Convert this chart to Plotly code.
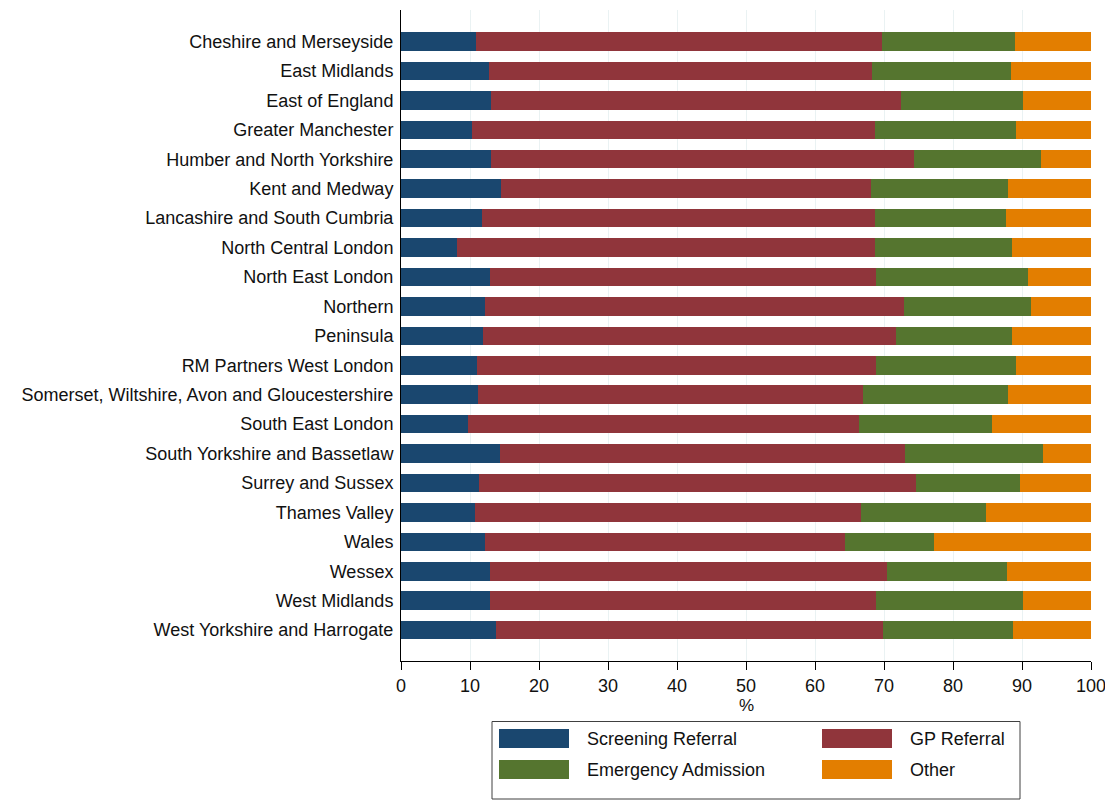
import plotly.graph_objects as go

regions = [
    "Cheshire and Merseyside", "East Midlands", "East of England", "Greater Manchester",
    "Humber and North Yorkshire", "Kent and Medway", "Lancashire and South Cumbria",
    "North Central London", "North East London", "Northern", "Peninsula",
    "RM Partners West London", "Somerset, Wiltshire, Avon and Gloucestershire",
    "South East London", "South Yorkshire and Bassetlaw", "Surrey and Sussex",
    "Thames Valley", "Wales", "Wessex", "West Midlands", "West Yorkshire and Harrogate",
]

screening = [10.8, 12.7, 13.1, 10.3, 13.1, 14.5, 11.7, 8.1, 12.9, 12.2, 11.9,
             11.0, 11.2, 9.7, 14.3, 11.3, 10.7, 12.2, 12.9, 12.9, 13.8]
gp = [58.9, 55.5, 59.3, 58.4, 61.2, 53.6, 57.0, 60.6, 55.9, 60.7, 59.8,
      57.8, 55.7, 56.7, 58.7, 63.4, 55.9, 52.1, 57.5, 55.9, 56.1]
emergency = [19.3, 20.2, 17.7, 20.4, 18.5, 19.9, 19.0, 19.8, 22.1, 18.4, 16.8,
             20.3, 21.1, 19.2, 20.0, 15.0, 18.2, 12.9, 17.4, 21.4, 18.8]
other = [11.0, 11.6, 9.9, 10.9, 7.2, 12.0, 12.3, 11.5, 9.1, 8.7, 11.5,
         10.9, 12.0, 14.4, 7.0, 10.3, 15.2, 22.8, 12.2, 9.8, 11.3]

series_names = ["Screening Referral", "GP Referral", "Emergency Admission", "Other"]
series_values = [screening, gp, emergency, other]
series_colors = ["#1a476f", "#90353b", "#55752f", "#e37e00"]

x_ticks = [0, 10, 20, 30, 40, 50, 60, 70, 80, 90, 100]
x_title = "%"

FONT = "Liberation Sans, Arial, sans-serif"
TXT = "#111111"

fig = go.Figure()
for name, vals, col in zip(series_names, series_values, series_colors):
    fig.add_trace(go.Bar(
        y=regions, x=vals, name=name, orientation="h",
        marker=dict(color=col, line=dict(width=0)),
        width=0.63, showlegend=False,
    ))

# page offset from the default body margin
OFF = 8
W, H = 1113 - OFF, 801 - OFF
# plot area in page pixels
L, R, T, B = 401, 1091, 10, 661

def px(x):
    return (x - L) / (R - L)

def py(y):
    return (B - y) / (B - T)

shapes = []
annotations = []
# x axis title
annotations.append(dict(xref="paper", yref="paper", x=0.5, y=py(705),
                        text=x_title, showarrow=False, xanchor="center", yanchor="middle",
                        font=dict(family=FONT, size=17, color=TXT)))
# legend box (page pixel coordinates)
shapes.append(dict(type="rect", xref="paper", yref="paper",
                   x0=px(492), x1=px(1020), y0=py(799), y1=py(721.5),
                   line=dict(color="#404040", width=1), fillcolor="white", layer="above"))
legend_pos = [(499, 729), (822, 729), (499, 760), (822, 760)]
for name, col, (lx, ly) in zip(series_names, series_colors, legend_pos):
    shapes.append(dict(type="rect", xref="paper", yref="paper",
                       x0=px(lx), x1=px(lx + 70), y0=py(ly + 19), y1=py(ly),
                       line=dict(width=0), fillcolor=col, layer="above"))
    annotations.append(dict(xref="paper", yref="paper", x=px(lx + 86), y=py(ly + 9.5),
                            text=name, showarrow=False, xanchor="left", yanchor="middle",
                            font=dict(family=FONT, size=18, color=TXT)))

fig.update_layout(
    barmode="stack",
    width=W, height=H,
    margin=dict(l=L - OFF, r=W - (R - OFF), t=T - OFF, b=H - (B - OFF), pad=0),
    paper_bgcolor="white", plot_bgcolor="white",
    font=dict(family=FONT, size=18, color=TXT),
    shapes=shapes, annotations=annotations,
)
fig.update_xaxes(
    range=[0, 100], tickvals=x_ticks, ticktext=[str(t) for t in x_ticks],
    showgrid=True, gridcolor="#eaf2f3", gridwidth=1,
    showline=True, linecolor="#000000", linewidth=1,
    ticks="outside", ticklen=8, tickcolor="#000000", tickwidth=1,
    tickfont=dict(family=FONT, size=18, color=TXT),
    zeroline=False, fixedrange=True,
)
fig.update_yaxes(
    categoryorder="array", categoryarray=regions,
    range=[21.05, -1.07],
    showgrid=False, showline=True, linecolor="#000000", linewidth=1,
    ticks="", ticklabelstandoff=3,
    tickfont=dict(family=FONT, size=18, color=TXT),
    zeroline=False, fixedrange=True,
)

fig.write_html("out.html")
